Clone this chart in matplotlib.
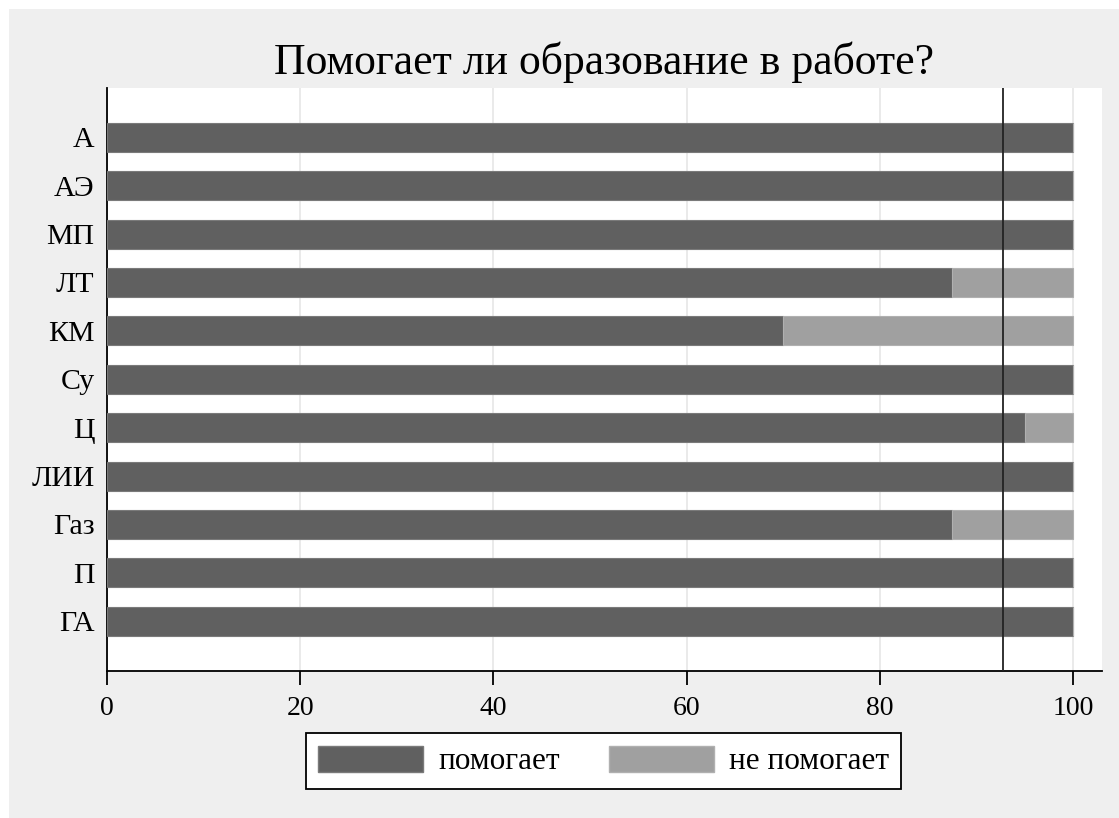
import matplotlib.pyplot as plt
from matplotlib.patches import Rectangle, Patch

plt.rcParams['font.family'] = ['Liberation Serif', 'DejaVu Serif']

# data (top to bottom as in the chart)
categories = ['А', 'АЭ', 'МП', 'ЛТ', 'КМ', 'Су', 'Ц', 'ЛИИ', 'Газ', 'П', 'ГА']
helps = [100, 100, 100, 87.5, 70, 100, 95, 100, 87.5, 100, 100]
not_helps = [0, 0, 0, 12.5, 30, 0, 5, 0, 12.5, 0, 0]
ref_line = 92.7
xticks = [0, 20, 40, 60, 80, 100]

dark = '#606060'
light = '#a0a0a0'
W, H = 1119, 818

fig = plt.figure(figsize=(W / 100, H / 100), dpi=100)
fig.patch.set_facecolor('white')
fig.patches.append(Rectangle((9 / W, 0), 1 - 9 / W, 1 - 9 / H, transform=fig.transFigure,
                             facecolor='#efefef', edgecolor='none', zorder=-10))

ax = fig.add_axes([107 / W, (H - 671) / H, (1102 - 107) / W, (671 - 88) / H])
ax.set_facecolor('white')

y = list(range(len(categories)))[::-1]
ax.barh(y, helps, height=0.6, color=dark, edgecolor='#7a7a7a', linewidth=0.8, zorder=3)
ax.barh(y, not_helps, left=helps, height=0.6, color=light, edgecolor='#b0b0b0', linewidth=0.8, zorder=3)
ax.axvline(ref_line, color='#222222', linewidth=1.3, zorder=4)

ax.set_xlim(0, 103)
ax.set_ylim(-1.03, 11.02)
ax.set_xticks(xticks)
ax.set_yticks(y)
ax.set_yticklabels(categories)
ax.grid(axis='x', color='#e6e6e6', linewidth=1.2, zorder=0)
ax.tick_params(axis='y', length=0, pad=9, labelsize=21.5)
ax.tick_params(axis='x', length=10, width=1.3, pad=8, labelsize=20)
for s in ['top', 'right']:
    ax.spines[s].set_visible(False)
for s in ['left', 'bottom']:
    ax.spines[s].set_linewidth(1.3)

fig.text(0.5 * (107 + 1102) / W, 1 - 74 / H, 'Помогает ли образование в работе?',
         ha='center', va='baseline', fontsize=31.5)

handles = [Patch(facecolor=dark, edgecolor='#7a7a7a'), Patch(facecolor=light, edgecolor='#b0b0b0')]
leg = fig.legend(handles, ['помогает', 'не помогает'], loc='center',
                 bbox_to_anchor=(603.5 / W, 1 - 761 / H), ncol=2, fontsize=22.5,
                 frameon=True, fancybox=False, edgecolor='black', framealpha=1,
                 handlelength=3.36, handleheight=0.9, handletextpad=0.48,
                 columnspacing=1.57, borderpad=0.4)
leg.get_frame().set_linewidth(1.3)

fig.savefig('out.png', dpi=100)
